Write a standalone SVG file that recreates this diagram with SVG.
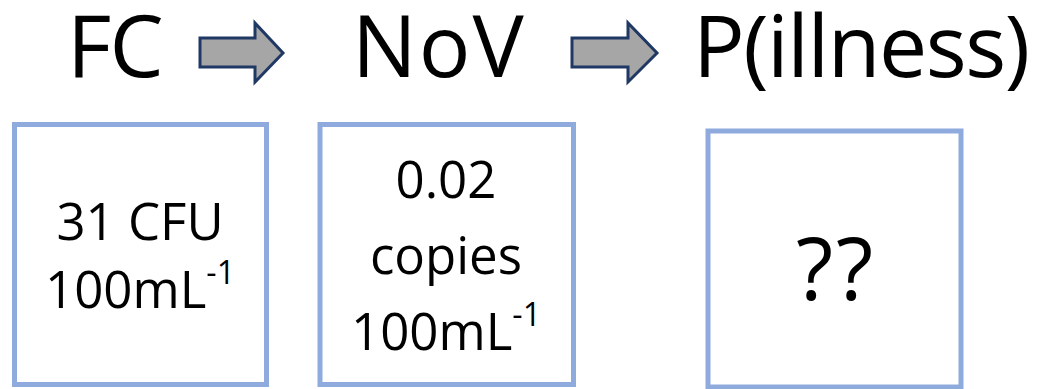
<svg xmlns="http://www.w3.org/2000/svg" width="1043" height="389" viewBox="0 0 1043 389">
  <style>
    .t { font-family: "Open Sans", "Liberation Sans", sans-serif; fill: #000; }
    .title { font-size: 86px; }
    .body { font-size: 51px; text-anchor: middle; }
    .box { fill: #fff; stroke: #8FAADC; stroke-width: 5; }
    .arrow { fill: #A6A6A6; stroke: #1F3864; stroke-width: 3; stroke-linejoin: miter; }
    .sup { font-size: 32px; }
  </style>
  <rect width="1043" height="389" fill="#fff"/>

  <g id="title-fc">
    <text class="t title" x="67" y="77" letter-spacing="-2">FC</text>
  </g>
  <g id="title-nov">
    <text class="t title" x="352" y="77" letter-spacing="2">NoV</text>
  </g>
  <g id="title-pillness">
    <text class="t title" x="693" y="77" letter-spacing="-1.5">P(illness)</text>
  </g>

  <g id="connectors">
    <polygon class="arrow" points="200,38 255,38 255,23 283,53 255,82 255,67 200,67"/>
    <polygon class="arrow" points="572,38 628,38 628,23 657,53 628,82 628,67 572,67"/>
  </g>

  <g id="box-fc">
    <rect class="box" x="14.5" y="124.5" width="252" height="260"/>
    <text class="t body" x="140" y="240">31 CFU</text>
    <text class="t body" x="140" y="308">100mL<tspan class="sup" dy="-24">-1</tspan></text>
  </g>

  <g id="box-nov">
    <rect class="box" x="320" y="124.5" width="253.5" height="260"/>
    <text class="t body" x="446" y="198">0.02</text>
    <text class="t body" x="446" y="274">copies</text>
    <text class="t body" x="446" y="350">100mL<tspan class="sup" dy="-24">-1</tspan></text>
  </g>

  <g id="box-pillness">
    <rect class="box" x="708" y="131" width="253" height="256"/>
    <text class="t" x="836" y="300" font-size="86" text-anchor="middle" letter-spacing="3">??</text>
  </g>
</svg>
